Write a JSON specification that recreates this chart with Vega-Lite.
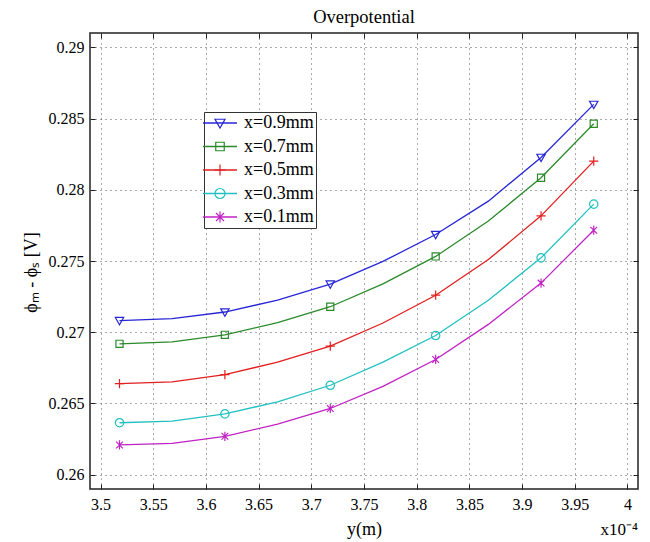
{
  "$schema": "https://vega.github.io/schema/vega-lite/v6.json",
  "width": 548,
  "height": 456,
  "autosize": {"type": "none"},
  "padding": {"left": 90, "top": 33, "right": 12, "bottom": 53},
  "background": "white",
  "title": {"text": "Overpotential", "fontSize": 18.5, "font": "Liberation Serif", "fontWeight": "normal", "color": "black", "offset": 6},
  "config": {
    "view": {"stroke": "#222", "strokeWidth": 1.5},
    "axis": {
      "labelFont": "Liberation Serif", "labelFontSize": 16, "labelColor": "black",
      "titleFont": "Liberation Serif", "titleFontSize": 18, "titleFontWeight": "normal", "titleColor": "black",
      "domain": false, "tickColor": "#222", "tickSize": -5, "tickWidth": 1,
      "gridColor": "#444", "gridDash": [1, 4], "gridWidth": 1, "gridOpacity": 0.9
    },
    "legend": {
      "labelFont": "Liberation Serif", "labelFontSize": 18, "labelColor": "black"
    }
  },
  "datasets": {
    "curves": [
      {"pos": 3.518, "phi": 0.27082, "series": "x=0.9mm"},
      {"pos": 3.568, "phi": 0.27095, "series": "x=0.9mm"},
      {"pos": 3.618, "phi": 0.27142, "series": "x=0.9mm"},
      {"pos": 3.668, "phi": 0.27225, "series": "x=0.9mm"},
      {"pos": 3.718, "phi": 0.27338, "series": "x=0.9mm"},
      {"pos": 3.768, "phi": 0.27497, "series": "x=0.9mm"},
      {"pos": 3.818, "phi": 0.27686, "series": "x=0.9mm"},
      {"pos": 3.868, "phi": 0.27920, "series": "x=0.9mm"},
      {"pos": 3.918, "phi": 0.28227, "series": "x=0.9mm"},
      {"pos": 3.968, "phi": 0.28599, "series": "x=0.9mm"},
      {"pos": 3.518, "phi": 0.26919, "series": "x=0.7mm"},
      {"pos": 3.568, "phi": 0.26932, "series": "x=0.7mm"},
      {"pos": 3.618, "phi": 0.26982, "series": "x=0.7mm"},
      {"pos": 3.668, "phi": 0.27068, "series": "x=0.7mm"},
      {"pos": 3.718, "phi": 0.27179, "series": "x=0.7mm"},
      {"pos": 3.768, "phi": 0.27340, "series": "x=0.7mm"},
      {"pos": 3.818, "phi": 0.27532, "series": "x=0.7mm"},
      {"pos": 3.868, "phi": 0.27780, "series": "x=0.7mm"},
      {"pos": 3.918, "phi": 0.28084, "series": "x=0.7mm"},
      {"pos": 3.968, "phi": 0.28463, "series": "x=0.7mm"},
      {"pos": 3.518, "phi": 0.26640, "series": "x=0.5mm"},
      {"pos": 3.568, "phi": 0.26652, "series": "x=0.5mm"},
      {"pos": 3.618, "phi": 0.26703, "series": "x=0.5mm"},
      {"pos": 3.668, "phi": 0.26790, "series": "x=0.5mm"},
      {"pos": 3.718, "phi": 0.26902, "series": "x=0.5mm"},
      {"pos": 3.768, "phi": 0.27065, "series": "x=0.5mm"},
      {"pos": 3.818, "phi": 0.27260, "series": "x=0.5mm"},
      {"pos": 3.868, "phi": 0.27510, "series": "x=0.5mm"},
      {"pos": 3.918, "phi": 0.27817, "series": "x=0.5mm"},
      {"pos": 3.968, "phi": 0.28201, "series": "x=0.5mm"},
      {"pos": 3.518, "phi": 0.26365, "series": "x=0.3mm"},
      {"pos": 3.568, "phi": 0.26377, "series": "x=0.3mm"},
      {"pos": 3.618, "phi": 0.26427, "series": "x=0.3mm"},
      {"pos": 3.668, "phi": 0.26512, "series": "x=0.3mm"},
      {"pos": 3.718, "phi": 0.26628, "series": "x=0.3mm"},
      {"pos": 3.768, "phi": 0.26790, "series": "x=0.3mm"},
      {"pos": 3.818, "phi": 0.26977, "series": "x=0.3mm"},
      {"pos": 3.868, "phi": 0.27225, "series": "x=0.3mm"},
      {"pos": 3.918, "phi": 0.27522, "series": "x=0.3mm"},
      {"pos": 3.968, "phi": 0.27899, "series": "x=0.3mm"},
      {"pos": 3.518, "phi": 0.26209, "series": "x=0.1mm"},
      {"pos": 3.568, "phi": 0.26220, "series": "x=0.1mm"},
      {"pos": 3.618, "phi": 0.26270, "series": "x=0.1mm"},
      {"pos": 3.668, "phi": 0.26355, "series": "x=0.1mm"},
      {"pos": 3.718, "phi": 0.26465, "series": "x=0.1mm"},
      {"pos": 3.768, "phi": 0.26620, "series": "x=0.1mm"},
      {"pos": 3.818, "phi": 0.26809, "series": "x=0.1mm"},
      {"pos": 3.868, "phi": 0.27055, "series": "x=0.1mm"},
      {"pos": 3.918, "phi": 0.27345, "series": "x=0.1mm"},
      {"pos": 3.968, "phi": 0.27716, "series": "x=0.1mm"}
    ],
    "note": [{"label": "x10⁻⁴"}]
  },
  "resolve": {"axis": {"x": "independent", "y": "independent"}, "legend": {"color": "independent", "shape": "independent"}},
  "layer": [
    {
      "data": {"name": "curves"},
      "transform": [{"filter": "datum.pos > 10"}],
      "mark": {"type": "point", "filled": false, "strokeWidth": 1.3},
      "encoding": {
        "x": {"field": "pos", "type": "quantitative", "axis": null},
        "y": {"field": "phi", "type": "quantitative", "axis": null},
        "color": {"field": "series", "type": "nominal",
          "legend": {
            "title": null, "orient": "none", "legendX": 114, "legendY": 79,
            "padding": 2, "rowPadding": 5.5, "symbolSize": 100, "symbolOffset": 5, "labelOffset": 15,
            "labelExpr": "datum.label + '\u00a0\u00a0\u00a0'",
            "symbolType": "M-3.4,0H3.4",
            "symbolStrokeWidth": 1.3, "symbolFillColor": "transparent", "symbolOpacity": 1,
            "strokeColor": "#333", "fillColor": "white"
          }}
      }
    },
    {
      "data": {"name": "curves"},
      "mark": {"type": "line", "strokeWidth": 1.3},
      "encoding": {
        "x": {"field": "pos", "type": "quantitative",
          "scale": {"domain": [3.49, 4.01], "nice": false, "zero": false},
          "axis": {"orient": "bottom", "values": [3.5, 3.55, 3.6, 3.65, 3.7, 3.75, 3.8, 3.85, 3.9, 3.95, 4], "format": "~g", "grid": true, "title": "y(m)", "labelPadding": 12, "titlePadding": 8}},
        "y": {"field": "phi", "type": "quantitative",
          "scale": {"domain": [0.259, 0.291], "nice": false, "zero": false},
          "axis": {"orient": "left", "values": [0.26, 0.265, 0.27, 0.275, 0.28, 0.285, 0.29], "format": "~g", "grid": true, "title": "ϕₘ - ϕₛ [V]", "titleY": 239, "labelPadding": 11, "titlePadding": 8}},
        "color": {"field": "series", "type": "nominal",
          "scale": {"domain": ["x=0.9mm", "x=0.7mm", "x=0.5mm", "x=0.3mm", "x=0.1mm"], "range": ["#2626d6", "#2a8a2a", "#e21e1e", "#22c0c0", "#c022c4"]},
          "legend": null},
        "detail": {"field": "series"}
      }
    },
    {
      "data": {"name": "curves"},
      "transform": [{"filter": {"field": "pos", "oneOf": [3.518, 3.618, 3.718, 3.818, 3.918, 3.968]}}],
      "mark": {"type": "point", "filled": false, "strokeWidth": 1.2, "size": 70, "opacity": 1},
      "encoding": {
        "x": {"field": "pos", "type": "quantitative",
          "axis": {"orient": "top", "values": [3.5, 3.55, 3.6, 3.65, 3.7, 3.75, 3.8, 3.85, 3.9, 3.95, 4], "labels": false, "grid": false, "title": null}},
        "y": {"field": "phi", "type": "quantitative",
          "axis": {"orient": "right", "values": [0.26, 0.265, 0.27, 0.275, 0.28, 0.285, 0.29], "labels": false, "grid": false, "title": null}},
        "color": {"field": "series", "type": "nominal",
          "legend": {
            "title": null, "orient": "none", "legendX": 114, "legendY": 79,
            "padding": 2, "rowPadding": 5.5, "symbolSize": 100, "symbolOffset": 5, "labelOffset": 15,
            "labelOpacity": 0, "symbolStrokeWidth": 1.2, "symbolOpacity": 1,
            "strokeColor": "transparent", "fillColor": "transparent"
          }},
        "shape": {"field": "series", "type": "nominal",
          "scale": {"domain": ["x=0.9mm", "x=0.7mm", "x=0.5mm", "x=0.3mm", "x=0.1mm"],
            "range": ["M-1,-0.75L1,-0.75L0,1Z", "M-0.85,-0.85H0.85V0.85H-0.85Z", "M-1.1,0H1.1M0,-1.1V1.1", "circle", "M-0.8,-0.8L0.8,0.8M-0.8,0.8L0.8,-0.8M0,-1.1V1.1"]},
          "legend": {
            "title": null, "orient": "none", "legendX": 114, "legendY": 79,
            "padding": 2, "rowPadding": 5.5, "symbolSize": 100, "symbolOffset": 5, "labelOffset": 15,
            "labelOpacity": 0, "symbolStrokeWidth": 1.2, "symbolOpacity": 1,
            "strokeColor": "transparent", "fillColor": "transparent"
          }}
      }
    },
    {
      "data": {"name": "note"},
      "mark": {"type": "text", "font": "Liberation Serif", "fontSize": 17, "align": "right", "baseline": "middle", "dy": 41, "color": "black"},
      "encoding": {
        "x": {"datum": 4.01, "type": "quantitative", "axis": null},
        "y": {"datum": 0.259, "type": "quantitative", "axis": null},
        "text": {"field": "label"}
      }
    }
  ]
}
